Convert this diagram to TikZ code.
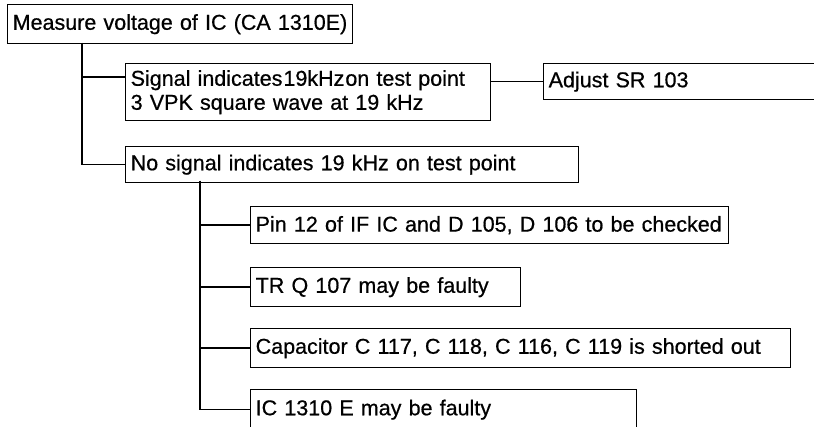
\documentclass[tikz,border=0pt]{standalone}
\usepackage{fontspec}
\setmainfont{Liberation Sans}[FakeBold=0.6]
\begin{document}
\begin{tikzpicture}[x=1pt,y=-1pt,
  box/.style={draw, line width=1.4pt, anchor=north west, inner xsep=5pt,
    inner ysep=0pt, align=left, font=\fontsize{21.5}{24}\selectfont},
  wire/.style={line width=1.4pt}]
\useasboundingbox (0,0) rectangle (814,427);
% boxes
\node[box, minimum height=39pt, text width=335pt] (b1) at (7,4) {\hbox{Measure voltage of IC (CA 1310E)}};
\node[box, minimum height=57pt, text width=355pt] (b2) at (125,63)
  {\hbox{Signal indicates\hspace{1pt}19kHz\hspace{1pt}on test point}\\\hbox{3 VPK square wave at 19 kHz}};
\node[box, minimum height=36pt, text width=300pt] (b3) at (543,63) {\hbox{Adjust SR 103}};
\node[box, minimum height=36pt, text width=443pt] (b4) at (125,146) {\hbox{No signal indicates 19 kHz on test point}};
\node[box, minimum height=37pt, text width=468pt] (b5) at (250,206) {\hbox{Pin 12 of IF IC and D 105, D 106 to be checked}};
\node[box, minimum height=39pt, text width=260pt] (b6) at (250,267) {\hbox{TR Q 107 may be faulty}};
\node[box, minimum height=39pt, text width=530pt] (b7) at (250,328) {\hbox{Capacitor C 117, C 118, C 116, C 119 is shorted out}};
\node[box, minimum height=40pt, text width=376pt] (b8) at (250,389) {\hbox{IC 1310 E may be faulty}};
% trunk points
\coordinate (j1) at (82,43);
\coordinate (j2) at (200,181);
% connectors
\draw[wire] (j1) |- ([yshift=-14pt]b2.north west);
\draw[wire] (j1) |- (b4.west);
\draw[wire] (b2.east |- b3.west) -- (b3.west);
\draw[wire] (j2) |- (b5.west);
\draw[wire] (j2) |- (b6.west);
\draw[wire] (j2) |- (b7.west);
\draw[wire] (j2) |- (b8.west);
\end{tikzpicture}
\end{document}
